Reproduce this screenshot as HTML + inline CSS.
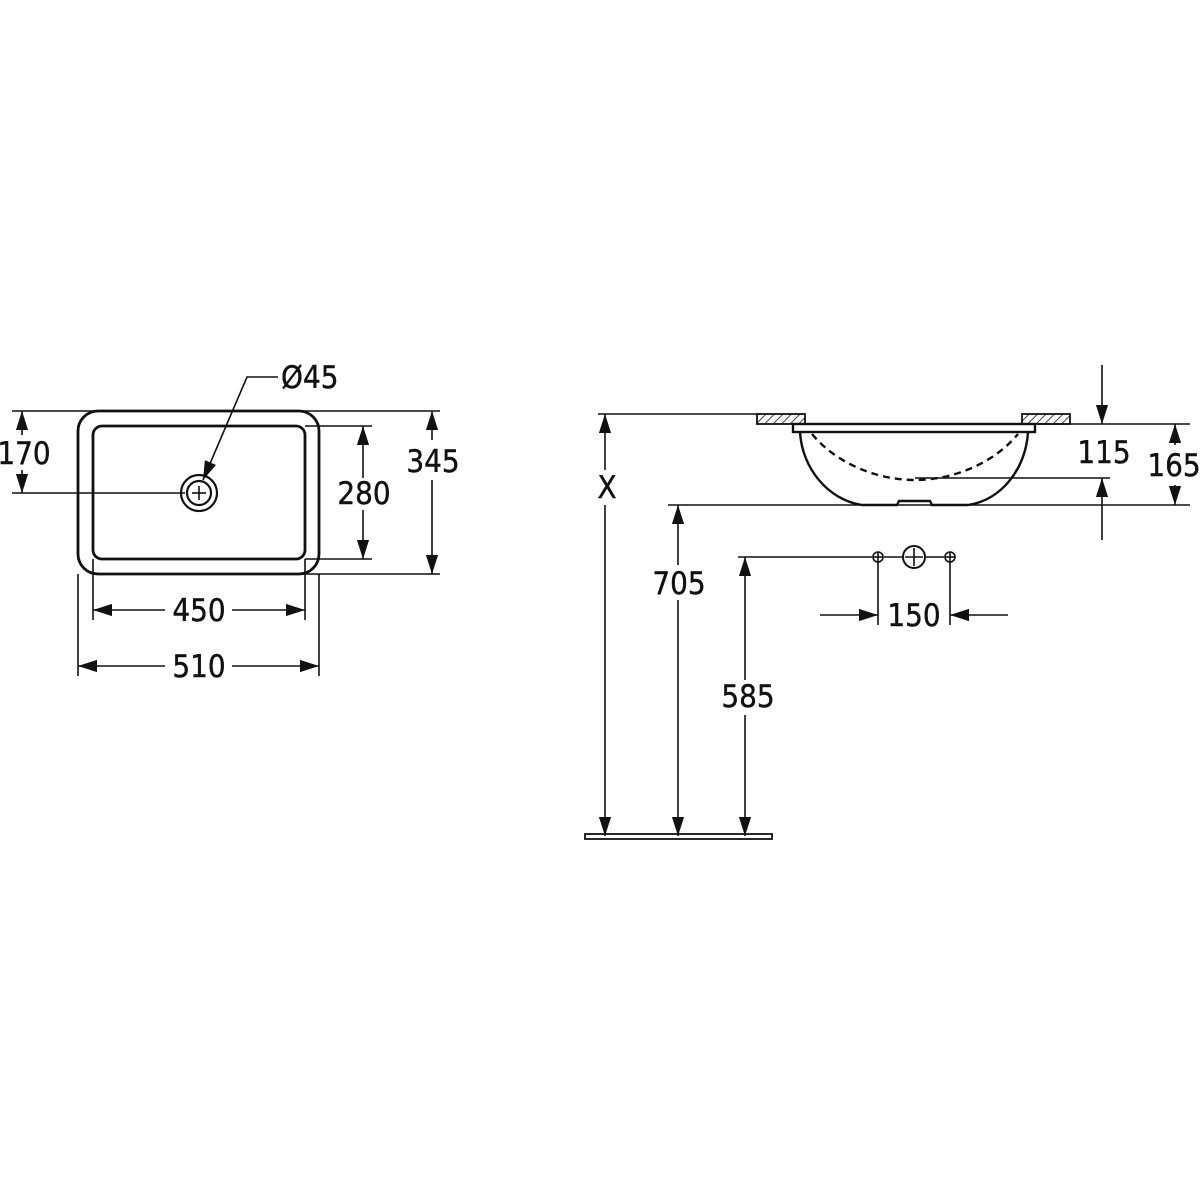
<!DOCTYPE html>
<html><head><meta charset="utf-8"><style>html,body{margin:0;background:#fff}svg{display:block}text{font-family:"DejaVu Sans Condensed","Liberation Sans Narrow","Liberation Sans",sans-serif;font-size:31px;fill:#111;stroke:#111;stroke-width:0.4}</style></head>
<body>
<svg width="1200" height="1200" viewBox="0 0 1200 1200" xmlns="http://www.w3.org/2000/svg">
<defs>
<marker id="a" viewBox="0 0 10 10" refX="10" refY="5" markerWidth="19" markerHeight="19" markerUnits="userSpaceOnUse" orient="auto-start-reverse"><path d="M0,1.8 L10,5 L0,8.2z" fill="#111"/></marker>
<pattern id="h" width="6" height="6" patternUnits="userSpaceOnUse" patternTransform="rotate(45)"><line x1="0" y1="0" x2="0" y2="6" stroke="#111" stroke-width="1.6"/></pattern>
</defs>
<g stroke="#111" fill="none" stroke-width="1.6">
<rect x="78" y="411" width="241" height="163" rx="20" stroke-width="2.8"/>
<rect x="93" y="426" width="212" height="133" rx="9" stroke-width="2.8"/>
<circle cx="199" cy="493" r="18" stroke-width="2.2"/>
<circle cx="199" cy="493" r="12" stroke-width="2.2"/>
<line x1="192" y1="493" x2="206" y2="493"/><line x1="199" y1="486" x2="199" y2="500"/>
<line x1="12" y1="411" x2="440" y2="411"/>
<line x1="12" y1="493" x2="185" y2="493"/>
<line x1="22" y1="435" x2="22" y2="411" marker-end="url(#a)"/>
<line x1="22" y1="470" x2="22" y2="493" marker-end="url(#a)"/>
<line x1="305" y1="426" x2="372" y2="426"/>
<line x1="305" y1="559" x2="372" y2="559"/>
<line x1="363" y1="478" x2="363" y2="426" marker-end="url(#a)"/>
<line x1="363" y1="510" x2="363" y2="559" marker-end="url(#a)"/>
<line x1="305" y1="574" x2="440" y2="574"/>
<line x1="432" y1="440" x2="432" y2="411" marker-end="url(#a)"/>
<line x1="432" y1="480" x2="432" y2="574" marker-end="url(#a)"/>
<line x1="78" y1="574" x2="78" y2="676"/>
<line x1="319" y1="574" x2="319" y2="676"/>
<line x1="93" y1="559" x2="93" y2="620"/>
<line x1="305" y1="559" x2="305" y2="620"/>
<line x1="165" y1="610" x2="93" y2="610" marker-end="url(#a)"/>
<line x1="232" y1="610" x2="305" y2="610" marker-end="url(#a)"/>
<line x1="165" y1="666" x2="78" y2="666" marker-end="url(#a)"/>
<line x1="232" y1="666" x2="319" y2="666" marker-end="url(#a)"/>
<polyline points="278,377 247,377 203,480" marker-end="url(#a)"/>
<line x1="598" y1="414" x2="757" y2="414"/>
<rect x="757" y="414" width="48" height="10" fill="url(#h)" stroke-width="1.8"/>
<rect x="1022" y="414" width="48" height="10" fill="url(#h)" stroke-width="1.8"/>
<rect x="793" y="424" width="242" height="8" stroke-width="2.4"/>
<path d="M800,432 C802,468 828,500 862,505 L897,505 L899,501 L930,501 L932,505 L968,505 C1002,500 1026,468 1028,432" stroke-width="2.4"/>
<path d="M812,434 C835,462 875,480 915,480 C955,480 995,462 1018,434" stroke-width="2.4" stroke-dasharray="7,5"/>
<line x1="1035" y1="424" x2="1190" y2="424"/>
<line x1="915" y1="478" x2="1110" y2="478"/>
<line x1="668" y1="505" x2="1190" y2="505"/>
<line x1="1102" y1="365" x2="1102" y2="424" marker-end="url(#a)"/>
<line x1="1102" y1="540" x2="1102" y2="478" marker-end="url(#a)"/>
<line x1="1175" y1="445" x2="1175" y2="424" marker-end="url(#a)"/>
<line x1="1175" y1="485" x2="1175" y2="505" marker-end="url(#a)"/>
<line x1="605" y1="470" x2="605" y2="414" marker-end="url(#a)"/>
<line x1="605" y1="505" x2="605" y2="836" marker-end="url(#a)"/>
<line x1="678" y1="565" x2="678" y2="505" marker-end="url(#a)"/>
<line x1="678" y1="600" x2="678" y2="836" marker-end="url(#a)"/>
<line x1="745" y1="680" x2="745" y2="557" marker-end="url(#a)"/>
<line x1="745" y1="715" x2="745" y2="836" marker-end="url(#a)"/>
<line x1="738" y1="557" x2="872" y2="557"/>
<circle cx="878" cy="557" r="5"/><line x1="873" y1="557" x2="883" y2="557"/><line x1="878" y1="552" x2="878" y2="562"/>
<circle cx="914" cy="557" r="11" stroke-width="2"/><line x1="905" y1="557" x2="923" y2="557"/><line x1="914" y1="548" x2="914" y2="566"/>
<circle cx="950" cy="557" r="5"/><line x1="945" y1="557" x2="955" y2="557"/><line x1="950" y1="552" x2="950" y2="562"/>
<line x1="884" y1="557" x2="902" y2="557"/><line x1="926" y1="557" x2="944" y2="557"/>
<line x1="878" y1="562" x2="878" y2="625"/>
<line x1="950" y1="562" x2="950" y2="625"/>
<line x1="820" y1="615" x2="878" y2="615" marker-end="url(#a)"/>
<line x1="1008" y1="615" x2="950" y2="615" marker-end="url(#a)"/>
<rect x="585" y="834" width="187" height="5" stroke-width="1.8"/>
</g>
<text x="24" y="464" text-anchor="middle">170</text>
<text x="364" y="504" text-anchor="middle">280</text>
<text x="433" y="472" text-anchor="middle">345</text>
<text x="199" y="621" text-anchor="middle">450</text>
<text x="199" y="677" text-anchor="middle">510</text>
<text x="281" y="388">Ø45</text>
<text x="607" y="498" text-anchor="middle">X</text>
<text x="679" y="594" text-anchor="middle">705</text>
<text x="748" y="707" text-anchor="middle">585</text>
<text x="914" y="626" text-anchor="middle">150</text>
<text x="1104" y="463" text-anchor="middle">115</text>
<text x="1174" y="476" text-anchor="middle">165</text>
</svg>
</body></html>
